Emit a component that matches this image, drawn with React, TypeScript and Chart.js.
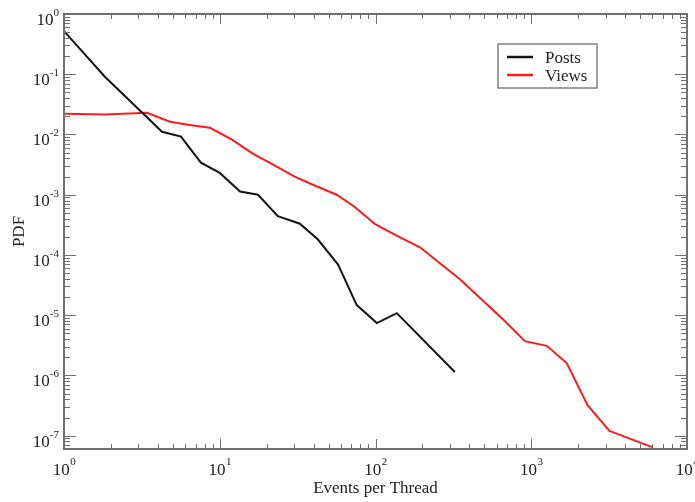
import React, { useEffect, useRef } from "react";
import { Chart, registerables } from "chart.js";

Chart.register(...registerables);

// ---- data ----
const postsX = [1, 1.83, 4.26, 5.64, 7.57, 10, 13.5, 17.6, 23.6, 32.7, 42.7, 57.5, 75.8, 102, 137, 323];
const postsY = [0.52, 0.091, 0.0111, 0.0092, 0.0034, 0.0023, 0.00113, 0.001, 0.00044, 0.00033, 0.00018, 6.9e-5, 1.47e-5, 7.4e-6, 1.08e-5, 1.14e-6];

const viewsX = [1, 1.83, 3.41, 4.79, 6.25, 8.65, 12, 16.3, 21.9, 30.3, 40.7, 56.4, 74, 100, 137, 193, 347, 661, 911, 1260, 1690, 2300, 3180, 6040];
const viewsY = [0.0221, 0.0215, 0.0229, 0.0163, 0.0145, 0.0129, 0.0082, 0.0048, 0.0032, 0.002, 0.00142, 0.001, 0.00062, 0.00032, 0.00021, 0.000134, 4.0e-5, 8.5e-6, 3.7e-6, 3.1e-6, 1.6e-6, 3.2e-7, 1.2e-7, 6.4e-8];

const seriesLabels = ["Posts", "Views"];
const xTickExponents = [0, 1, 2, 3, 4];
const yTickExponents = [0, -1, -2, -3, -4, -5, -6, -7];
const xTitle = "Events per Thread";
const yTitle = "PDF";
const xMin = 1;
const xMax = 1e4;
const yMin = Math.pow(10, -7.2);
const yMax = 1;

const FONT = '"Liberation Serif", "Times New Roman", serif';
const TEXT = "#222222";
const FRAME = "#707070";

const framePlugin = {
  id: "xmgrFrame",
  afterDraw(chart: any) {
    const { ctx, chartArea } = chart;
    const { left, right, top, bottom } = chartArea;
    const xs = chart.scales.x;
    const ys = chart.scales.y;
    ctx.save();

    // inward ticks on all four sides
    ctx.strokeStyle = FRAME;
    ctx.lineWidth = 1;
    ctx.beginPath();
    for (let d = 0; d <= 4; d++) {
      for (let m = 1; m <= 9; m++) {
        const v = m * Math.pow(10, d);
        if (v < xMin || v > xMax) continue;
        const px = Math.round(xs.getPixelForValue(v)) + 0.5;
        const len = m === 1 ? 10 : 5;
        ctx.moveTo(px, bottom);
        ctx.lineTo(px, bottom - len);
        ctx.moveTo(px, top);
        ctx.lineTo(px, top + len);
      }
    }
    for (let d = -8; d <= 0; d++) {
      for (let m = 1; m <= 9; m++) {
        const v = m * Math.pow(10, d);
        if (v < yMin * 0.999 || v > yMax * 1.001) continue;
        const py = Math.round(ys.getPixelForValue(v)) + 0.5;
        const len = m === 1 ? 12 : 6;
        ctx.moveTo(left, py);
        ctx.lineTo(left + len, py);
        ctx.moveTo(right, py);
        ctx.lineTo(right - len, py);
      }
    }
    ctx.stroke();

    // frame
    ctx.lineWidth = 2;
    ctx.strokeRect(left, top, right - left, bottom - top);

    // tick labels
    ctx.fillStyle = TEXT;
    const baseFont = `17px ${FONT}`;
    const expFont = `11px ${FONT}`;
    ctx.textBaseline = "alphabetic";
    ctx.textAlign = "left";
    for (const e of xTickExponents) {
      const px = xs.getPixelForValue(Math.pow(10, e));
      ctx.font = baseFont;
      const wb = ctx.measureText("10").width;
      ctx.font = expFont;
      const we = ctx.measureText(String(e)).width;
      const x0 = px - (wb + we) / 2;
      ctx.font = baseFont;
      ctx.fillText("10", x0, bottom + 26);
      ctx.font = expFont;
      ctx.fillText(String(e), x0 + wb + 0.5, bottom + 16);
    }
    for (const e of yTickExponents) {
      const py = ys.getPixelForValue(Math.pow(10, e));
      const es = e === 0 ? "0" : "-" + String(-e);
      ctx.font = expFont;
      const we = ctx.measureText(es).width;
      ctx.font = baseFont;
      const wb = ctx.measureText("10").width;
      const xr = left - 5;
      ctx.fillText("10", xr - we - wb, py + 11);
      ctx.font = expFont;
      ctx.fillText(es, xr - we, py + 2);
    }

    // axis titles
    ctx.font = `17px ${FONT}`;
    ctx.textAlign = "center";
    ctx.fillText(xTitle, (left + right) / 2, bottom + 44);
    ctx.save();
    ctx.translate(24, (top + bottom) / 2);
    ctx.rotate(-Math.PI / 2);
    ctx.fillText(yTitle, 0, 0);
    ctx.restore();

    // legend
    const lx = 498, ly = 44, lw = 99, lh = 44;
    ctx.strokeStyle = "#808080";
    ctx.lineWidth = 1.5;
    ctx.strokeRect(lx, ly, lw, lh);
    ctx.textAlign = "left";
    ctx.font = `17px ${FONT}`;
    chart.data.datasets.forEach((ds: any, i: number) => {
      const yy = ly + 13 + i * 18;
      ctx.strokeStyle = ds.borderColor;
      ctx.lineWidth = 2.5;
      ctx.beginPath();
      ctx.moveTo(lx + 9, yy);
      ctx.lineTo(lx + 35, yy);
      ctx.stroke();
      ctx.fillStyle = TEXT;
      ctx.fillText(ds.label, lx + 47, yy + 6);
    });

    ctx.restore();
  },
};

export default function App() {
  const ref = useRef<HTMLCanvasElement | null>(null);
  useEffect(() => {
    if (!ref.current) return;
    const chart = new Chart(ref.current, {
      type: "line",
      data: {
        datasets: [
          {
            label: seriesLabels[0],
            data: postsX.map((x, i) => ({ x, y: postsY[i] })),
            borderColor: "#141414",
            borderWidth: 2,
            pointRadius: 0,
            tension: 0,
          },
          {
            label: seriesLabels[1],
            data: viewsX.map((x, i) => ({ x, y: viewsY[i] })),
            borderColor: "#ff1a1a",
            borderWidth: 2,
            pointRadius: 0,
            tension: 0,
          },
        ],
      },
      options: {
        responsive: false,
        animation: false,
        events: [],
        layout: { padding: { left: 64, top: 14, right: 8, bottom: 53 } },
        plugins: { legend: { display: false }, tooltip: { enabled: false } },
        scales: {
          x: { type: "logarithmic", min: xMin, max: xMax, display: false },
          y: { type: "logarithmic", min: yMin, max: yMax, display: false },
        },
      },
      plugins: [framePlugin],
    });
    return () => chart.destroy();
  }, []);
  return (
    <div style={{ position: "absolute", left: 0, top: 0, width: 695, height: 502, background: "#fff" }}>
      <canvas ref={ref} width={695} height={502} />
    </div>
  );
}
